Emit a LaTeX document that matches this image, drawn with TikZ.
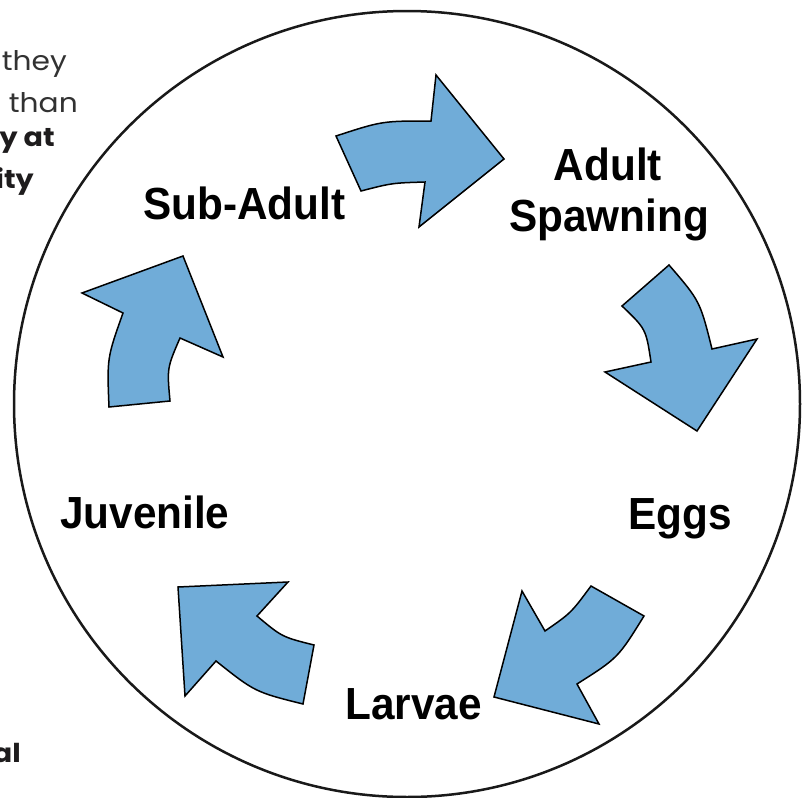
\documentclass[tikz,border=0pt]{standalone}
\usepackage{fontspec}
\newfontfamily\lblfont[FakeStretch=0.94]{Liberation Sans}
\newfontfamily\fragfont[FakeStretch=1.1]{Poppins}
\definecolor{arrowblue}{RGB}{112,172,216}
\definecolor{fraggray}{RGB}{50,50,50}
\definecolor{fragdark}{RGB}{30,28,29}
\tikzset{
  x=1pt, y=-1pt,
  blockarrow/.style={fill=arrowblue, draw=black, line width=1.5pt, line join=miter},
  stagelabel/.style={font=\lblfont\bfseries\fontsize{45}{50}\selectfont, inner sep=0pt, text=black},
  fragthin/.style={font=\fragfont\fontsize{27}{30}\selectfont, inner sep=0pt, text=fraggray, anchor=base east},
  fragbold/.style={font=\fragfont\bfseries\fontsize{26}{30}\selectfont, inner sep=0pt, text=fragdark, anchor=base east},
}
\begin{document}
\begin{tikzpicture}
\clip (0,0) rectangle (807,798);
\fill[white] (0,0) rectangle (807,798);

% clipped fragments of neighbouring text
\node[fragthin] (f1) at (67,70) {they};
\node[fragthin] (f2) at (78,112) {than};
\node[fragbold] (f3) at (55,146) {y at};
\node[fragbold] (f4) at (34,188) {ity};
\node[fragbold] (f5) at (21,762) {al};

% big circle
\draw[line width=2.5pt, draw=black!90] (407,404) circle[radius=393];

% arrows
\draw[blockarrow] (336,136) .. controls (382,121) .. (431,121) -- (436,75) -- (504,159) -- (419,227) -- (425,182) .. controls (392,183) .. (361,191) -- cycle;
\draw[blockarrow] (669,265) .. controls (700,301) .. (712,349) -- (757,339) -- (697,431) -- (605,372) -- (651,362) .. controls (646,329) .. (622,306) -- cycle;
\draw[blockarrow] (644,616) .. controls (618,658) .. (577,684) -- (599,724) -- (494,697) -- (522,591) -- (545,631) .. controls (571,613) .. (591,586) -- cycle;
\draw[blockarrow] (303,704) .. controls (255,692) .. (216,661) -- (185,696) -- (178,587) -- (288,582) -- (257,616) .. controls (282,637) .. (314,645) -- cycle;
\draw[blockarrow] (170,401) .. controls (167,368) .. (180,338) -- (223,357) -- (183,256) -- (82,293) -- (123,313) .. controls (107,358) .. (109,407) -- cycle;

% stage labels
\node[stagelabel, anchor=base west] (subadult) at (143,219) {Sub-Adult};
\node[stagelabel, anchor=base] (adult) at (608,180) {Adult};
\node[stagelabel, anchor=base] (spawning) at (609,231) {Spawning};
\node[stagelabel, anchor=base west] (eggs) at (628,529) {Eggs};
\node[stagelabel, anchor=base west] (larvae) at (345,719) {Larvae};
\node[stagelabel, anchor=base west] (juvenile) at (60,528) {Juvenile};
\end{tikzpicture}
\end{document}
